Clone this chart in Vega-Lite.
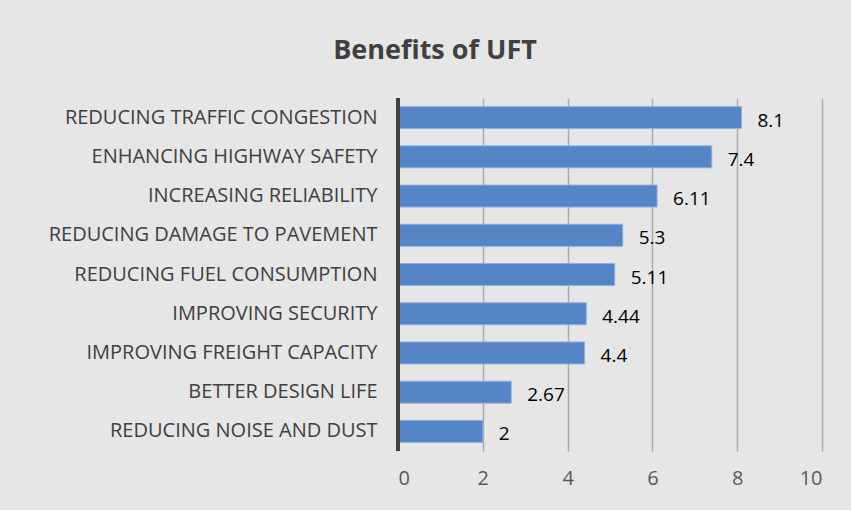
{
  "$schema": "https://vega.github.io/schema/vega-lite/v6.json",
  "autosize": "none",
  "width": 424,
  "height": 353,
  "padding": {"left": 398, "top": 98, "right": 29, "bottom": 59},
  "background": "#e6e6e6",
  "title": {
    "text": "Benefits of UFT",
    "fontSize": 27,
    "font": "Open Sans",
    "fontWeight": "bold",
    "color": "#404040",
    "anchor": "middle",
    "dx": -175,
    "offset": 32
  },
  "data": {
    "values": [
      {"benefit": "REDUCING TRAFFIC CONGESTION", "value": 8.1},
      {"benefit": "ENHANCING HIGHWAY SAFETY", "value": 7.4},
      {"benefit": "INCREASING RELIABILITY", "value": 6.11},
      {"benefit": "REDUCING DAMAGE TO PAVEMENT", "value": 5.3},
      {"benefit": "REDUCING FUEL CONSUMPTION", "value": 5.11},
      {"benefit": "IMPROVING SECURITY", "value": 4.44},
      {"benefit": "IMPROVING FREIGHT CAPACITY", "value": 4.4},
      {"benefit": "BETTER DESIGN LIFE", "value": 2.67},
      {"benefit": "REDUCING NOISE AND DUST", "value": 2}
    ]
  },
  "encoding": {
    "y": {
      "field": "benefit",
      "type": "nominal",
      "sort": {"field": "value", "order": "descending"},
      "scale": {"paddingInner": 0.44, "paddingOuter": 0.22},
      "axis": {
        "title": null,
        "labelFont": "Open Sans",
        "labelFontSize": 20,
        "labelColor": "#404040",
        "labelPadding": 21,
        "ticks": false,
        "domain": false,
        "labelLimit": 400
      }
    },
    "x": {
      "field": "value",
      "type": "quantitative",
      "scale": {"domain": [0, 10], "nice": false},
      "axis": {
        "title": null,
        "values": [0, 2, 4, 6, 8, 10],
        "labelFont": "Open Sans",
        "labelFontSize": 20,
        "labelColor": "#595959",
        "labelPadding": 17,
        "ticks": false,
        "domain": false,
        "grid": true,
        "gridColor": "#ababab",
        "gridWidth": 1.5
      }
    }
  },
  "layer": [
    {
      "mark": {"type": "bar", "color": "#5585c6", "stroke": "#8fb0dc", "strokeWidth": 1}
    },
    {
      "mark": {"type": "rule", "color": "#404040", "strokeWidth": 3},
      "encoding": {"x": {"datum": 0}, "y": null}
    },
    {
      "mark": {"type": "text", "align": "left", "baseline": "middle", "dx": 16, "dy": 3, "font": "Open Sans", "fontSize": 19, "color": "#000000"},
      "encoding": {"text": {"field": "value", "type": "quantitative"}}
    }
  ],
  "config": {"view": {"stroke": null}}
}
